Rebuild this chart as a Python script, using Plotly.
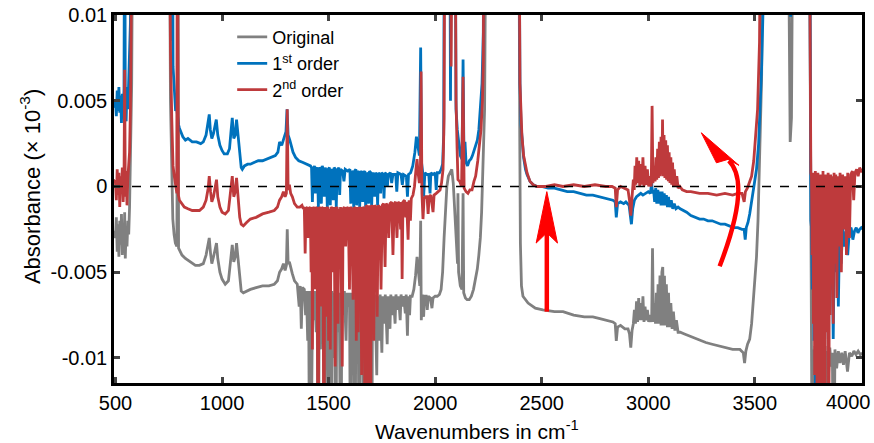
import plotly.graph_objects as go

# ---------------- data (wavenumber, absorbance) ----------------
original = [
    (490,-0.0026),(500,-0.0030),(504,-0.0018),(508,-0.0038),(512,-0.0022),(516,-0.0041),(520,-0.0020),(524,-0.0034),
    (528,-0.0016),(532,-0.0040),(536,-0.0025),(540,-0.0036),(543,-0.0015),(546,-0.0042),(550,-0.0024),(554,-0.0035),
    (558,-0.0020),(562,-0.0028),(566,-0.0012),(570,0.0010),(576,0.0060),(582,0.0200),(752,0.0200),(758,0.0050),
    (764,-0.0005),(769,-0.0019),(775,-0.0028),(781,-0.0033),(788,-0.0035),(790,0.0200),(793,0.0200),(796,-0.0036),
    (800,-0.0037),(812,-0.0040),(828,-0.0042),(850,-0.0044),(875,-0.0046),(894,-0.0046),(912,-0.0045),(925,-0.0040),
    (935,-0.0034),(940,-0.0030),(946,-0.0039),(952,-0.0045),(960,-0.0041),(968,-0.0035),(974,-0.0033),(980,-0.0042),
    (990,-0.0050),(1000,-0.0054),(1015,-0.0057),(1030,-0.0055),(1040,-0.0045),(1048,-0.0034),(1055,-0.0044),
    (1062,-0.0041),(1068,-0.0033),(1075,-0.0042),(1083,-0.0056),(1090,-0.0061),(1100,-0.0062),(1115,-0.0061),
    (1133,-0.0060),(1160,-0.0059),(1190,-0.0058),(1220,-0.0058),(1245,-0.0057),(1260,-0.0055),(1270,-0.0050),
    (1280,-0.0048),(1288,-0.0045),(1296,-0.0049),(1302,-0.0046),(1306,-0.0025),(1310,-0.0045),(1316,-0.0044),
    (1322,-0.0048),(1330,-0.0051),(1340,-0.0055),(1353,-0.0057),(1362,-0.0070),(1367,-0.0058),(1372,-0.0083),
    (1377,-0.0059),(1386,-0.0060),(1392,-0.0075),(1396,-0.0061),(1402,-0.0090),(1406,-0.0061),(1412,-0.0200),
    (1416,-0.0061),(1421,-0.0120),(1425,-0.0062),(1430,-0.0078),(1434,-0.0061),(1442,-0.0085),(1446,-0.0062),
    (1452,-0.0200),(1456,-0.0061),(1462,-0.0095),(1466,-0.0062),(1472,-0.0080),(1476,-0.0061),(1480,-0.0200),
    (1484,-0.0062),(1490,-0.0090),(1494,-0.0061),(1500,-0.0200),(1504,-0.0062),(1512,-0.0200),(1516,-0.0061),
    (1524,-0.0100),(1528,-0.0062),(1534,-0.0200),(1538,-0.0061),(1546,-0.0085),(1550,-0.0062),(1558,-0.0200),
    (1562,-0.0062),(1570,-0.0075),(1574,-0.0061),(1582,-0.0090),(1586,-0.0062),(1594,-0.0070),(1598,-0.0062),
    (1604,-0.0200),(1608,-0.0062),(1614,-0.0110),(1618,-0.0063),(1624,-0.0200),(1628,-0.0062),(1634,-0.0095),
    (1638,-0.0063),(1645,-0.0200),(1649,-0.0062),(1656,-0.0085),(1660,-0.0063),(1666,-0.0200),(1670,-0.0062),
    (1678,-0.0200),(1682,-0.0063),(1690,-0.0100),(1694,-0.0063),(1702,-0.0200),(1706,-0.0063),(1714,-0.0085),
    (1718,-0.0063),(1726,-0.0110),(1730,-0.0064),(1738,-0.0090),(1742,-0.0063),(1750,-0.0097),(1754,-0.0064),
    (1762,-0.0080),(1766,-0.0063),(1775,-0.0092),(1779,-0.0064),(1788,-0.0083),(1792,-0.0063),(1800,-0.0075),
    (1804,-0.0064),(1812,-0.0080),(1816,-0.0063),(1824,-0.0072),(1828,-0.0064),(1836,-0.0078),(1840,-0.0063),
    (1848,-0.0070),(1852,-0.0064),(1860,-0.0074),(1864,-0.0063),(1870,-0.0087),(1874,-0.0064),(1880,-0.0075),
    (1884,-0.0064),(1892,-0.0064),(1900,-0.0060),(1908,-0.0052),(1915,-0.0041),(1922,-0.0050),(1928,-0.0058),
    (1932,-0.0020),(1935,-0.0078),(1940,-0.0063),(1946,-0.0076),(1950,-0.0064),(1958,-0.0064),(1963,-0.0072),
    (1968,-0.0064),(1978,-0.0065),(1985,-0.0071),(1990,-0.0065),(2000,-0.0064),(2010,-0.0064),(2020,-0.0063),
    (2028,-0.0060),(2035,-0.0050),(2042,-0.0030),(2048,-0.0015),(2055,0.0000),(2062,0.0006),(2070,0.0008),
    (2078,0.0010),(2085,0.0002),(2090,-0.0012),(2095,-0.0020),(2100,-0.0035),(2105,-0.0045),(2107,-0.0004),
    (2110,-0.0050),(2118,-0.0058),(2126,-0.0060),(2131,-0.0004),(2134,-0.0062),(2142,-0.0065),(2150,-0.0066),
    (2160,-0.0066),(2170,-0.0064),(2180,-0.0060),(2190,-0.0053),(2198,-0.0048),(2205,-0.0040),(2212,-0.0030),
    (2218,-0.0015),(2225,0.0010),(2232,0.0045),(2240,0.0200),(2392,0.0200),(2397,0.0030),(2400,-0.0033),
    (2405,-0.0058),(2412,-0.0064),(2436,-0.0068),(2470,-0.0071),(2505,-0.0072),(2560,-0.0073),(2600,-0.0073),
    (2650,-0.0075),(2700,-0.0076),(2740,-0.0076),(2773,-0.0077),(2800,-0.0078),(2834,-0.0079),(2845,-0.0080),
    (2850,-0.0090),(2856,-0.0082),(2870,-0.0081),(2890,-0.0083),(2905,-0.0083),(2912,-0.0086),(2918,-0.0094),
    (2924,-0.0084),(2930,-0.0080),(2935,-0.0072),(2940,-0.0080),(2945,-0.0067),(2950,-0.0079),(2955,-0.0065),
    (2960,-0.0078),(2965,-0.0068),(2970,-0.0078),(2975,-0.0064),(2980,-0.0079),(2985,-0.0070),(2990,-0.0078),
    (2996,-0.0072),(3002,-0.0079),(3010,-0.0075),(3016,-0.0079),(3020,-0.0036),(3024,-0.0079),(3030,-0.0068),
    (3034,-0.0080),(3038,-0.0062),(3042,-0.0080),(3046,-0.0057),(3050,-0.0080),(3055,-0.0052),(3060,-0.0081),
    (3064,-0.0050),(3068,-0.0047),(3072,-0.0081),(3076,-0.0052),(3080,-0.0081),(3085,-0.0057),(3090,-0.0082),
    (3095,-0.0062),(3100,-0.0082),(3106,-0.0068),(3112,-0.0083),(3118,-0.0073),(3125,-0.0084),(3132,-0.0078),
    (3140,-0.0085),(3150,-0.0085),(3170,-0.0086),(3190,-0.0087),(3210,-0.0088),(3241,-0.0090),(3270,-0.0091),
    (3300,-0.0092),(3330,-0.0093),(3360,-0.0094),(3396,-0.0095),(3430,-0.0095),(3446,-0.0097),(3452,-0.0103),
    (3458,-0.0096),(3466,-0.0092),(3476,-0.0089),(3485,-0.0080),(3494,-0.0066),(3500,-0.0055),(3508,-0.0041),
    (3515,-0.0020),(3522,0.0010),(3532,0.0064),(3540,0.0200),(3650,0.0200),(3660,0.0120),(3666,0.0026),
    (3672,0.0040),(3680,0.0200),(3755,0.0200),(3762,-0.0050),(3766,-0.0092),(3770,-0.0200),(3774,-0.0095),
    (3778,-0.0110),(3782,-0.0093),(3786,-0.0200),(3790,-0.0096),(3795,-0.0200),(3800,-0.0094),(3805,-0.0112),
    (3810,-0.0097),(3815,-0.0200),(3820,-0.0095),(3825,-0.0108),(3830,-0.0093),(3835,-0.0200),(3840,-0.0096),
    (3846,-0.0110),(3852,-0.0094),(3858,-0.0105),(3864,-0.0097),(3870,-0.0200),(3876,-0.0095),(3884,-0.0106),
    (3892,-0.0096),(3900,-0.0103),(3908,-0.0097),(3916,-0.0104),(3924,-0.0096),(3935,-0.0108),(3944,-0.0097),
    (3955,-0.0099),(3965,-0.0096),(3975,-0.0098),(3985,-0.0096),(3995,-0.0098),(4010,-0.0097),
]

first_order = [
    (490,0.0046),(500,0.0050),(504,0.0041),(508,0.0056),(512,0.0044),(516,0.0058),(520,0.0043),(524,0.0053),
    (528,0.0037),(532,0.0054),(536,0.0042),(540,0.0057),(543,0.0200),(546,0.0048),(550,0.0038),(554,0.0058),
    (558,0.0045),(562,0.0062),(566,0.0070),(570,0.0095),(576,0.0200),(756,0.0200),(760,0.0120),(764,0.0085),
    (767,0.0200),(770,0.0070),(774,0.0058),(778,0.0050),(782,0.0044),(787,0.0046),(791,0.0040),(796,0.0036),
    (800,0.0034),(808,0.0031),(816,0.0029),(828,0.0027),(840,0.0028),(860,0.0026),(880,0.0026),(900,0.0025),
    (912,0.0026),(925,0.0030),(935,0.0038),(940,0.0042),(945,0.0033),(952,0.0028),(960,0.0031),(968,0.0037),
    (973,0.0039),(980,0.0030),(990,0.0024),(1000,0.0021),(1010,0.0019),(1025,0.0019),(1035,0.0022),(1042,0.0032),
    (1048,0.0040),(1055,0.0028),(1062,0.0030),(1068,0.0039),(1074,0.0030),(1082,0.0018),(1090,0.0011),(1095,0.0010),
    (1105,0.0012),(1120,0.0013),(1133,0.0013),(1150,0.0014),(1170,0.0015),(1190,0.0015),(1210,0.0016),(1230,0.0017),
    (1250,0.0018),(1262,0.0020),(1270,0.0026),(1280,0.0024),(1292,0.0029),(1300,0.0032),(1305,0.0045),(1310,0.0030),
    (1318,0.0027),(1325,0.0024),(1333,0.0020),(1345,0.0017),(1360,0.0015),(1380,0.0014),(1400,0.0013),(1415,0.0012),
    (1420,0.0011),(1424,-0.0009),(1428,0.0010),(1434,0.0012),(1438,-0.0004),(1442,0.0010),(1448,0.0011),(1452,-0.0012),
    (1456,0.0011),(1462,0.0010),(1466,-0.0010),(1470,0.0012),(1476,0.0010),(1480,-0.0006),(1484,0.0011),(1490,0.0009),
    (1494,-0.0013),(1498,0.0010),(1504,0.0011),(1508,-0.0011),(1512,0.0010),(1518,0.0009),(1522,-0.0008),(1526,0.0011),
    (1532,0.0010),(1536,-0.0012),(1540,0.0009),(1548,0.0011),(1552,-0.0005),(1556,0.0010),(1566,0.0009),(1572,0.0003),
    (1578,0.0010),(1590,0.0009),(1600,0.0010),(1604,-0.0010),(1608,0.0009),(1614,0.0008),(1618,-0.0013),(1622,0.0009),
    (1628,0.0010),(1632,-0.0011),(1636,0.0008),(1642,0.0009),(1646,-0.0012),(1650,0.0008),(1656,0.0009),(1660,-0.0009),
    (1664,0.0008),(1670,0.0009),(1674,-0.0013),(1678,0.0008),(1684,0.0007),(1688,-0.0010),(1692,0.0009),(1698,0.0008),
    (1702,-0.0012),(1706,0.0007),(1712,0.0008),(1716,-0.0006),(1720,0.0008),(1726,0.0007),(1730,-0.0011),(1734,0.0008),
    (1740,0.0007),(1744,-0.0004),(1748,0.0008),(1756,0.0007),(1760,-0.0007),(1764,0.0008),(1772,0.0007),(1776,0.0000),
    (1780,0.0007),(1790,0.0008),(1796,0.0002),(1802,0.0007),(1815,0.0007),(1820,-0.0003),(1825,0.0008),(1840,0.0007),
    (1846,0.0001),(1852,0.0007),(1865,0.0006),(1870,-0.0006),(1875,0.0007),(1885,0.0008),(1895,0.0012),(1905,0.0020),
    (1912,0.0029),(1918,0.0025),(1926,0.0018),(1932,0.0081),(1936,0.0014),(1942,0.0008),(1946,-0.0006),(1952,0.0008),
    (1962,0.0007),(1970,0.0007),(1976,-0.0004),(1980,0.0008),(1990,0.0007),(2000,0.0008),(2005,-0.0002),(2010,0.0008),
    (2020,0.0008),(2028,0.0010),(2035,0.0013),(2040,0.0030),(2044,0.0200),(2068,0.0200),(2072,0.0050),(2077,0.0200),
    (2093,0.0200),(2098,0.0045),(2104,0.0033),(2110,0.0025),(2118,0.0018),(2126,0.0016),(2131,0.0074),(2135,0.0020),
    (2140,0.0026),(2145,0.0014),(2152,0.0012),(2160,0.0015),(2168,0.0016),(2175,0.0018),(2182,0.0021),(2190,0.0024),
    (2198,0.0027),(2205,0.0033),(2212,0.0045),(2220,0.0060),(2226,0.0090),(2230,0.0200),(2392,0.0200),(2398,0.0060),
    (2403,0.0036),(2407,0.0028),(2415,0.0017),(2424,0.0010),(2431,0.0007),(2445,0.0003),(2460,0.0001),(2478,0.0000),
    (2500,0.0000),(2530,-0.0001),(2560,-0.0001),(2590,-0.0002),(2620,-0.0003),(2650,-0.0003),(2680,-0.0004),
    (2710,-0.0005),(2740,-0.0005),(2773,-0.0006),(2800,-0.0007),(2834,-0.0008),(2845,-0.0009),(2850,-0.0018),
    (2856,-0.0010),(2870,-0.0009),(2885,-0.0010),(2895,-0.0009),(2910,-0.0011),(2916,-0.0016),(2921,-0.0022),
    (2927,-0.0013),(2935,-0.0008),(2945,-0.0006),(2955,-0.0005),(2965,-0.0004),(2975,-0.0005),(2990,-0.0004),
    (3000,-0.0003),(3010,-0.0004),(3016,0.0002),(3020,-0.0004),(3025,-0.0002),(3030,-0.0009),(3035,-0.0001),
    (3040,-0.0010),(3045,-0.0002),(3050,-0.0010),(3055,-0.0003),(3060,-0.0011),(3065,-0.0003),(3070,-0.0011),
    (3075,-0.0004),(3080,-0.0011),(3085,-0.0005),(3090,-0.0012),(3095,-0.0006),(3100,-0.0012),(3108,-0.0008),
    (3115,-0.0013),(3122,-0.0010),(3130,-0.0013),(3140,-0.0012),(3150,-0.0013),(3165,-0.0014),(3180,-0.0015),
    (3200,-0.0017),(3220,-0.0018),(3241,-0.0019),(3260,-0.0019),(3280,-0.0020),(3300,-0.0020),(3321,-0.0021),
    (3340,-0.0022),(3360,-0.0022),(3382,-0.0023),(3400,-0.0024),(3420,-0.0024),(3440,-0.0025),(3450,-0.0025),
    (3455,-0.0031),(3460,-0.0024),(3468,-0.0021),(3476,-0.0016),(3484,-0.0010),(3492,-0.0002),(3500,0.0004),
    (3508,0.0010),(3518,0.0025),(3525,0.0045),(3532,0.0070),(3540,0.0110),(3546,0.0200),(3664,0.0200),
    (3668,0.0099),(3672,0.0200),(3757,0.0200),(3760,0.0040),(3763,-0.0020),(3766,-0.0024),(3770,-0.0060),
    (3774,-0.0023),(3778,-0.0090),(3782,-0.0025),(3786,-0.0200),(3790,-0.0023),(3795,-0.0070),(3800,-0.0026),
    (3805,-0.0200),(3810,-0.0024),(3815,-0.0085),(3820,-0.0023),(3825,-0.0200),(3830,-0.0026),(3835,-0.0075),
    (3840,-0.0024),(3845,-0.0089),(3850,-0.0023),(3856,-0.0060),(3862,-0.0025),(3868,-0.0089),(3874,-0.0024),
    (3880,-0.0050),(3886,-0.0026),(3892,-0.0070),(3898,-0.0025),(3905,-0.0045),(3912,-0.0024),(3920,-0.0035),
    (3928,-0.0026),(3936,-0.0040),(3944,-0.0025),(3952,-0.0024),(3960,-0.0031),(3968,-0.0026),(3976,-0.0024),
    (3984,-0.0027),(3992,-0.0025),(4000,-0.0024),(4010,-0.0025),
]

second_order = [
    (490,0.0004),(500,0.0002),(504,-0.0008),(508,0.0010),(512,-0.0005),(516,0.0008),(520,-0.0012),(524,0.0006),
    (528,-0.0004),(532,0.0011),(536,-0.0009),(540,0.0004),(543,0.0068),(546,-0.0006),(550,0.0009),(554,-0.0011),
    (558,0.0005),(562,0.0012),(566,0.0020),(570,0.0045),(575,0.0090),(580,0.0200),(752,0.0200),(758,0.0080),
    (764,0.0040),(770,0.0012),(776,0.0006),(782,0.0000),(788,-0.0004),(790,0.0200),(793,0.0200),(795,-0.0005),
    (800,-0.0008),(810,-0.0010),(823,-0.0012),(840,-0.0013),(860,-0.0014),(880,-0.0014),(894,-0.0014),(912,-0.0012),
    (925,-0.0008),(935,-0.0001),(940,0.0006),(946,-0.0003),(952,-0.0009),(960,-0.0006),(968,0.0000),(974,0.0004),
    (980,-0.0006),(990,-0.0012),(1000,-0.0015),(1015,-0.0016),(1030,-0.0014),(1040,-0.0004),(1048,0.0006),
    (1055,-0.0006),(1062,-0.0003),(1068,0.0005),(1075,-0.0005),(1083,-0.0018),(1090,-0.0022),(1100,-0.0023),
    (1115,-0.0021),(1133,-0.0019),(1160,-0.0018),(1190,-0.0016),(1220,-0.0015),(1245,-0.0014),(1260,-0.0012),
    (1270,-0.0008),(1280,-0.0006),(1288,-0.0003),(1296,-0.0006),(1302,-0.0004),(1306,0.0045),(1310,-0.0002),
    (1316,0.0001),(1322,-0.0004),(1330,-0.0006),(1340,-0.0010),(1353,-0.0012),(1365,-0.0012),(1375,-0.0011),
    (1381,-0.0013),(1386,-0.0012),(1390,-0.0039),(1394,-0.0013),(1400,-0.0012),(1404,-0.0030),(1408,-0.0013),
    (1414,-0.0012),(1418,-0.0050),(1422,-0.0013),(1424,-0.0095),(1427,-0.0012),(1432,-0.0013),(1436,-0.0060),
    (1440,-0.0012),(1446,-0.0013),(1451,-0.0200),(1455,-0.0012),(1460,-0.0013),(1464,-0.0070),(1468,-0.0012),
    (1474,-0.0013),(1478,-0.0200),(1482,-0.0012),(1486,-0.0076),(1490,-0.0013),(1496,-0.0012),(1500,-0.0090),
    (1504,-0.0013),(1508,-0.0095),(1512,-0.0012),(1518,-0.0013),(1522,-0.0050),(1526,-0.0012),(1531,-0.0105),
    (1535,-0.0013),(1540,-0.0012),(1544,-0.0080),(1548,-0.0013),(1552,-0.0040),(1556,-0.0012),(1564,-0.0105),
    (1568,-0.0013),(1574,-0.0012),(1580,-0.0035),(1586,-0.0012),(1592,-0.0013),(1598,-0.0060),(1602,-0.0012),
    (1608,-0.0013),(1615,-0.0066),(1620,-0.0012),(1626,-0.0013),(1630,-0.0090),(1634,-0.0012),(1639,-0.0085),
    (1644,-0.0012),(1650,-0.0013),(1655,-0.0110),(1660,-0.0012),(1666,-0.0013),(1672,-0.0200),(1676,-0.0011),
    (1682,-0.0012),(1688,-0.0200),(1692,-0.0011),(1696,-0.0200),(1700,-0.0012),(1706,-0.0011),(1712,-0.0090),
    (1716,-0.0011),(1722,-0.0012),(1728,-0.0076),(1733,-0.0011),(1740,-0.0012),(1746,-0.0060),(1752,-0.0011),
    (1758,-0.0010),(1765,-0.0047),(1770,-0.0010),(1776,-0.0011),(1782,-0.0030),(1788,-0.0010),(1796,-0.0009),
    (1802,-0.0040),(1808,-0.0010),(1814,-0.0009),(1821,-0.0030),(1826,-0.0009),(1832,-0.0010),(1838,-0.0025),
    (1842,-0.0009),(1845,-0.0054),(1849,-0.0009),(1856,-0.0008),(1862,-0.0018),(1866,-0.0009),(1873,-0.0031),
    (1878,-0.0008),(1884,-0.0020),(1888,-0.0007),(1896,-0.0005),(1903,0.0000),(1910,0.0010),(1915,0.0016),
    (1920,0.0008),(1926,0.0002),(1931,0.0010),(1934,0.0067),(1938,-0.0004),(1943,-0.0019),(1948,-0.0007),
    (1955,-0.0006),(1962,-0.0006),(1967,-0.0016),(1972,-0.0006),(1980,-0.0005),(1990,-0.0015),(1995,-0.0005),
    (2005,-0.0004),(2014,-0.0003),(2023,-0.0002),(2030,0.0002),(2037,0.0010),(2042,0.0040),(2046,0.0200),
    (2070,0.0200),(2075,0.0070),(2081,0.0200),(2093,0.0200),(2098,0.0050),(2103,0.0022),(2107,0.0004),
    (2115,0.0003),(2124,0.0000),(2131,0.0064),(2136,-0.0001),(2145,-0.0003),(2154,-0.0004),(2163,-0.0002),
    (2173,-0.0002),(2182,0.0003),(2190,0.0006),(2200,0.0015),(2208,0.0024),(2215,0.0033),(2222,0.0050),
    (2226,0.0074),(2230,0.0200),(2392,0.0200),(2398,0.0060),(2403,0.0038),(2407,0.0030),(2415,0.0018),
    (2424,0.0011),(2431,0.0008),(2445,0.0003),(2460,0.0001),(2478,0.0000),(2520,0.0000),(2560,0.0001),
    (2600,0.0000),(2650,0.0001),(2700,0.0000),(2750,0.0001),(2800,0.0000),(2830,0.0000),(2845,-0.0001),
    (2850,-0.0012),(2856,-0.0002),(2870,0.0000),(2890,-0.0001),(2905,-0.0002),(2912,-0.0008),(2918,-0.0017),
    (2924,-0.0006),(2930,0.0004),(2934,-0.0002),(2938,0.0012),(2942,0.0001),(2946,0.0017),(2950,0.0002),
    (2955,0.0015),(2960,0.0000),(2965,0.0013),(2970,0.0001),(2975,0.0017),(2980,0.0000),(2985,0.0012),
    (2990,0.0001),(2996,0.0010),(3002,0.0000),(3008,0.0006),(3014,0.0000),(3018,0.0047),(3022,0.0002),
    (3028,0.0012),(3032,0.0003),(3036,0.0017),(3040,0.0004),(3044,0.0022),(3048,0.0005),(3052,0.0026),
    (3056,0.0006),(3060,0.0029),(3064,0.0007),(3067,0.0039),(3070,0.0006),(3074,0.0030),(3078,0.0005),
    (3082,0.0027),(3086,0.0004),(3090,0.0024),(3094,0.0003),(3098,0.0020),(3102,0.0002),(3106,0.0017),
    (3110,0.0001),(3114,0.0014),(3118,0.0000),(3122,0.0010),(3128,0.0000),(3134,0.0006),(3140,-0.0001),
    (3148,0.0000),(3160,-0.0002),(3180,-0.0003),(3200,-0.0003),(3241,-0.0004),(3280,-0.0004),(3321,-0.0005),
    (3360,-0.0004),(3396,-0.0005),(3420,-0.0004),(3440,-0.0004),(3450,-0.0009),(3456,-0.0003),(3465,-0.0001),
    (3476,0.0003),(3485,0.0006),(3495,0.0015),(3505,0.0030),(3513,0.0045),(3522,0.0084),(3530,0.0200),
    (3755,0.0200),(3759,0.0040),(3763,0.0008),(3766,0.0006),(3769,-0.0040),(3772,0.0008),(3775,-0.0080),
    (3778,0.0005),(3781,-0.0110),(3784,0.0009),(3787,-0.0060),(3790,0.0006),(3793,-0.0200),(3796,0.0008),
    (3799,-0.0090),(3802,0.0005),(3805,-0.0200),(3808,0.0007),(3811,-0.0070),(3814,0.0006),(3817,-0.0200),
    (3820,0.0009),(3823,-0.0100),(3826,0.0005),(3829,-0.0200),(3832,0.0007),(3835,-0.0085),(3838,0.0006),
    (3841,-0.0060),(3844,0.0008),(3847,-0.0200),(3850,0.0006),(3853,-0.0075),(3856,0.0007),(3860,-0.0050),
    (3864,0.0006),(3868,-0.0080),(3872,0.0008),(3876,-0.0045),(3880,0.0007),(3885,-0.0065),(3890,0.0006),
    (3895,-0.0035),(3900,0.0008),(3906,-0.0050),(3912,0.0007),(3918,-0.0025),(3924,0.0006),(3930,-0.0040),
    (3936,0.0008),(3944,-0.0030),(3950,0.0007),(3958,0.0009),(3964,-0.0008),(3970,0.0008),(3978,0.0010),
    (3985,0.0006),(3992,0.0011),(4000,0.0009),(4010,0.0010),
]

series_names = ["Original", "1<sup>st</sup> order", "2<sup>nd</sup> order"]
series_colors = ["rgb(128,128,128)", "rgb(0,114,189)", "rgb(190,58,60)"]
x_ticks = [500, 1000, 1500, 2000, 2500, 3000, 3500, 4000]
x_tick_labels = ["500", "1000", "1500", "2000", "2500", "3000", "3500", ""]
last_x_label = "4000"
y_ticks = [0.01, 0.005, 0, -0.005, -0.01]
y_tick_labels = ["0.01", "0.005", "0", "-0.005", "-0.01"]
x_title = "Wavenumbers in cm<sup>-1</sup>"
y_title = "Absorbance (× 10<sup>-3</sup>)"

FONT = "Liberation Sans, Arial, Helvetica, sans-serif"

fig = go.Figure()
for pts, name, col in zip([original, first_order, second_order], series_names, series_colors):
    xs = [p[0] for p in pts]
    ys = [p[1] for p in pts]
    fig.add_trace(go.Scatter(x=xs, y=ys, mode="lines", name=name,
                             line=dict(color=col, width=2.8), hoverinfo="skip"))

ARROW = "rgb(255,0,0)"
shapes = [
    # zero reference line
    dict(type="line", xref="paper", yref="y", x0=0, x1=1, y0=0, y1=0,
         line=dict(color="black", width=1.4, dash="dash"), layer="above"),
    # straight arrow
    dict(type="line", xref="x", yref="y", x0=2524, x1=2524, y0=-0.0073, y1=-0.0026,
         line=dict(color=ARROW, width=4.5), layer="above"),
    dict(type="path", xref="x", yref="y",
         path="M 2474,-0.0033 L 2524,-0.0003 L 2574,-0.0033 L 2524,-0.0027 Z",
         fillcolor=ARROW, line=dict(color=ARROW, width=1), layer="above"),
    # curved arrow
    dict(type="path", xref="x", yref="y",
         path="M 3335,-0.00465 Q 3485,0.0002 3378,0.0015",
         line=dict(color=ARROW, width=4.5), layer="above"),
    dict(type="path", xref="x", yref="y",
         path="M 3320,0.00138 L 3249,0.00313 L 3426,0.00123 L 3374,0.00158 Z",
         fillcolor=ARROW, line=dict(color=ARROW, width=1), layer="above"),
]

annotations = [
    dict(text=x_title, xref="paper", yref="paper", x=0.485, y=-0.127,
         xanchor="center", yanchor="middle", showarrow=False,
         font=dict(size=21, family=FONT, color="black")),
    dict(text=y_title, xref="paper", yref="paper", x=-0.112, y=0.533,
         xanchor="center", yanchor="middle", showarrow=False, textangle=-90,
         font=dict(size=22, family=FONT, color="black")),
    dict(text=last_x_label, xref="paper", yref="paper", x=1.0147, y=-0.015,
         xanchor="right", yanchor="top", showarrow=False,
         font=dict(size=20, family=FONT, color="black")),
]

fig.update_layout(
    width=874, height=443,
    margin=dict(l=114, r=12, t=15, b=60),
    paper_bgcolor="white", plot_bgcolor="white",
    font=dict(family=FONT, size=20, color="black"),
    showlegend=True,
    legend=dict(x=0.158, y=0.990, xanchor="left", yanchor="top",
                bgcolor="rgba(0,0,0,0)", font=dict(size=18, family=FONT),
                itemwidth=30, tracegroupgap=0),
    shapes=shapes,
    annotations=annotations,
    hovermode=False,
)
fig.update_xaxes(range=[493, 4003], tickvals=x_ticks, ticktext=x_tick_labels,
                 ticks="inside", ticklen=6, tickwidth=2.5,
                 showline=True, linewidth=2.5, linecolor="black", mirror="ticks",
                 showgrid=False, zeroline=False, automargin=False,
                 tickfont=dict(size=20, family=FONT))
fig.update_yaxes(range=[-0.01146, 0.01], tickvals=y_ticks, ticktext=y_tick_labels,
                 ticks="inside", ticklen=6, tickwidth=2.5,
                 showline=True, linewidth=2.5, linecolor="black", mirror="ticks",
                 showgrid=False, zeroline=False, automargin=False,
                 tickfont=dict(size=20, family=FONT))

fig.write_html("out.html", config={"displayModeBar": False},
               post_script="document.body.style.margin='0';document.body.style.overflow='hidden';")
